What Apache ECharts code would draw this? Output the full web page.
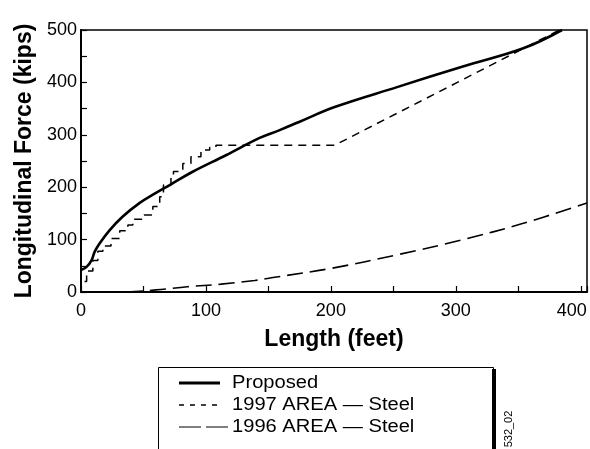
<!DOCTYPE html>
<html>
<head>
<meta charset="utf-8">
<script src="https://cdn.jsdelivr.net/npm/echarts@6/dist/echarts.min.js"></script>
<style>html,body{margin:0;padding:0;background:#fff}#c{width:590px;height:449px}</style>
</head>
<body>
<div id="c"></div>
<script>
// Proposed curve (feet, kips)
var proposedX = [0, 4.5, 8.5, 11, 15, 23, 33, 47, 60, 71, 89, 116, 143, 159, 175, 203, 253, 305, 354, 385];
var proposedY = [42, 48, 61, 77, 93, 118, 143, 170, 189, 204, 229, 261, 294, 309, 325, 353, 391, 430, 465, 500];

// 1997 AREA - Steel: staircase steps (value holds from x until next x), then linear rise
var stepX = [0, 4.5, 9.5, 13.5, 17.5, 24, 31, 37.5, 41.5, 50.5, 57.5, 63, 66, 72, 74, 81.5, 88, 96, 103, 108];
var stepY = [20, 40, 60, 78, 88, 102, 117, 128, 139, 147, 163, 182, 204, 220, 230, 245, 258, 271, 276, 280];
var rampX = [203, 383];
var rampY = [280, 500];

// 1996 AREA - Steel
var area96X = [0, 35, 60, 85, 112, 139, 155, 200, 253, 304, 354, 405];
var area96Y = [0, 0, 4, 10, 15, 22, 28, 45, 71, 99, 131, 170];

var seriesNames = ['Proposed', '1997 AREA \u2014 Steel', '1996 AREA \u2014 Steel'];

function zip(a, b) { return a.map(function (v, i) { return [v, b[i]]; }); }

var stair = [[0, 0]];
for (var i = 0; i < stepX.length; i++) {
  if (i > 0) stair.push([stepX[i], stepY[i - 1]]);
  stair.push([stepX[i], stepY[i]]);
}
for (var j = 0; j < rampX.length; j++) stair.push([rampX[j], rampY[j]]);

var font = '"Liberation Sans", Arial, Helvetica, sans-serif';
var styles = [
  { width: 2.8, dash: null, len: 41 },
  { width: 1.6, dash: [5, 6], len: 41 },
  { width: 1.2, dash: [22, 5], len: 49 }
];
var legendGraphics = [
  { type: 'rect', shape: { x: 158.5, y: 367.5, width: 335, height: 100 }, style: { fill: 'none', stroke: '#000', lineWidth: 1 }, z: 10 },
  { type: 'rect', shape: { x: 492, y: 369, width: 4, height: 80 }, style: { fill: '#000' }, z: 10 },
  { type: 'text', x: 509, y: 429, rotation: Math.PI / 2, style: { text: '532_02', fontFamily: font, fontSize: 11, fill: '#000', align: 'center', verticalAlign: 'middle' }, z: 10 }
];
seriesNames.forEach(function (n, k) {
  var y = 383 + k * 22;
  legendGraphics.push({ type: 'line', shape: { x1: 179, y1: y, x2: 179 + styles[k].len, y2: y },
    style: { stroke: '#000', lineWidth: styles[k].width, lineDash: styles[k].dash }, z: 10 });
  legendGraphics.push({ type: 'text', x: 232, y: y, scaleX: 1.15, originX: 0, originY: 0,
    style: { text: n, fontFamily: font, fontSize: 17.5, fill: '#000', verticalAlign: 'middle' }, z: 10 });
});

var chart = echarts.init(document.getElementById('c'));
chart.setOption({
  animation: false,
  backgroundColor: '#fff',
  grid: { left: 81, right: 2, top: 30, bottom: 157, show: true, borderColor: '#000', borderWidth: 1.5, backgroundColor: 'transparent' },
  xAxis: {
    type: 'value', min: 0, max: 405, interval: 50,
    name: 'Length (feet)', nameLocation: 'middle', nameGap: 36,
    nameTextStyle: { fontFamily: font, fontWeight: 'bold', fontSize: 23, color: '#000' },
    axisLine: { show: true, onZero: false, lineStyle: { color: '#000', width: 2 } },
    axisTick: { show: true, inside: true, length: 6, lineStyle: { color: '#000', width: 1.2 } },
    splitLine: { show: false },
    axisLabel: {
      fontFamily: font, fontSize: 18, color: '#000', margin: 10, showMaxLabel: true,
      formatter: function (v) { if (v === 400) return '{r|400}'; return (v % 100 === 0) ? String(v) : ''; },
      rich: { r: { fontFamily: font, fontSize: 18, color: '#000', padding: [0, 18, 0, 0] } }
    }
  },
  yAxis: {
    type: 'value', min: 0, max: 500, interval: 50,
    name: 'Longitudinal Force (kips)', nameLocation: 'middle', nameGap: 44, nameRotate: 90,
    nameTextStyle: { fontFamily: font, fontWeight: 'bold', fontSize: 23, color: '#000' },
    axisLine: { show: true, lineStyle: { color: '#000', width: 2 } },
    axisTick: { show: true, inside: true, length: 6, lineStyle: { color: '#000', width: 1.2 } },
    splitLine: { show: false },
    axisLabel: {
      fontFamily: font, fontSize: 18, color: '#000', margin: 4,
      formatter: function (v) { return (v % 100 === 0) ? String(v) : ''; }
    }
  },
  series: [
    {
      name: seriesNames[0], type: 'line', data: zip(proposedX, proposedY), smooth: 0.4,
      showSymbol: false, symbol: 'none', lineStyle: { color: '#000', width: 2.6 }, itemStyle: { color: '#000' }
    },
    {
      name: seriesNames[1], type: 'line', data: stair, showSymbol: false, symbol: 'none',
      lineStyle: { color: '#000', width: 1.5, type: [8, 6] }, itemStyle: { color: '#000' }
    },
    {
      name: seriesNames[2], type: 'line', data: zip(area96X, area96Y), smooth: 0.4, showSymbol: false, symbol: 'none',
      lineStyle: { color: '#000', width: 1.6, type: [16, 7] }, itemStyle: { color: '#000' }
    }
  ],
  graphic: legendGraphics
});
</script>
</body>
</html>
